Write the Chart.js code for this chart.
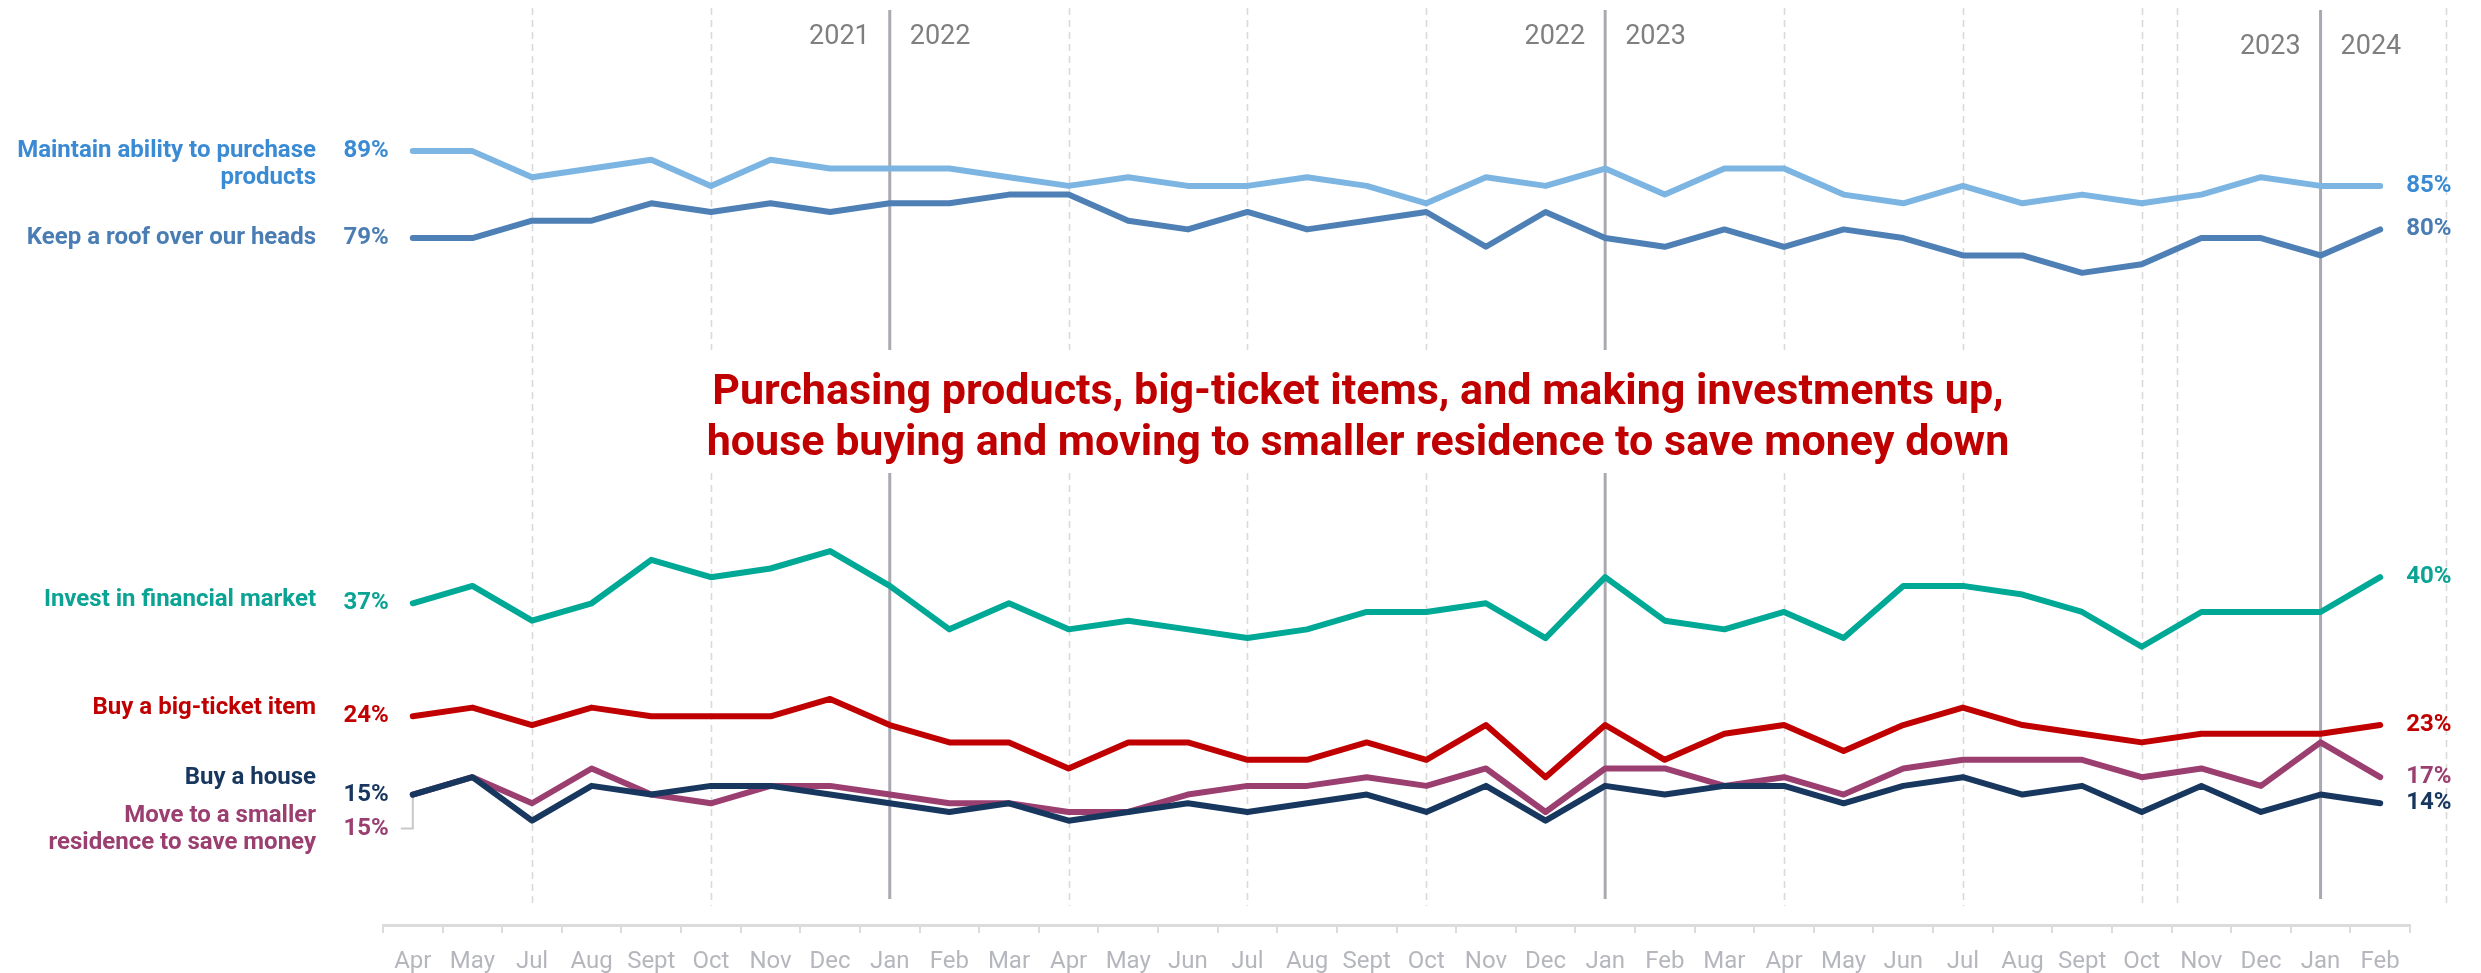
<!DOCTYPE html>
<html>
<head>
<meta charset="utf-8">
<script src="https://cdn.jsdelivr.net/npm/chart.js@4.4.1/dist/chart.umd.min.js"></script>
<style>
  html, body { margin: 0; padding: 0; background: #fff; }
  #wrap { width: 2481px; height: 973px; }
</style>
</head>
<body>
<div id="wrap"><canvas id="trendChart" width="2481" height="973"></canvas></div>
<script>
// months of each survey wave, Apr 2021 to Feb 2024
const categories = ['Apr', 'May', 'Jul', 'Aug', 'Sept', 'Oct', 'Nov', 'Dec',
    'Jan', 'Feb', 'Mar', 'Apr', 'May', 'Jun', 'Jul', 'Aug', 'Sept', 'Oct', 'Nov', 'Dec',
    'Jan', 'Feb', 'Mar', 'Apr', 'May', 'Jun', 'Jul', 'Aug', 'Sept', 'Oct', 'Nov', 'Dec',
    'Jan', 'Feb'];

const maintainPurchase = [89, 89, 86, 87, 88, 85, 88, 87,
    87, 87, 86, 85, 86, 85, 85, 86, 85, 83, 86, 85,
    87, 84, 87, 87, 84, 83, 85, 83, 84, 83, 84, 86,
    85, 85];
const keepRoof = [79, 79, 81, 81, 83, 82, 83, 82,
    83, 83, 84, 84, 81, 80, 82, 80, 81, 82, 78, 82,
    79, 78, 80, 78, 80, 79, 77, 77, 75, 76, 79, 79,
    77, 80];
const investMarket = [37, 39, 35, 37, 42, 40, 41, 43,
    39, 34, 37, 34, 35, 34, 33, 34, 36, 36, 37, 33,
    40, 35, 34, 36, 33, 39, 39, 38, 36, 32, 36, 36,
    36, 40];
const bigTicket = [24, 25, 23, 25, 24, 24, 24, 26,
    23, 21, 21, 18, 21, 21, 19, 19, 21, 19, 23, 17,
    23, 19, 22, 23, 20, 23, 25, 23, 22, 21, 22, 22,
    22, 23];
const buyHouse = [15, 17, 12, 16, 15, 16, 16, 15,
    14, 13, 14, 12, 13, 14, 13, 14, 15, 13, 16, 12,
    16, 15, 16, 16, 14, 16, 17, 15, 16, 13, 16, 13,
    15, 14];
const moveSmaller = [15, 17, 14, 18, 15, 14, 16, 16,
    15, 14, 14, 13, 13, 15, 16, 16, 17, 16, 18, 13,
    18, 18, 16, 17, 15, 18, 19, 19, 19, 17, 18, 16,
    21, 17];

const seriesNames = [
    ['Maintain ability to purchase', 'products'],
    ['Keep a roof over our heads'],
    ['Invest in financial market'],
    ['Buy a big-ticket item'],
    ['Buy a house'],
    ['Move to a smaller', 'residence to save money']
];

// year boundaries (index of the January wave) and the years either side
const yearBreaks = [
    { index: 8, before: '2021', after: '2022' },
    { index: 20, before: '2022', after: '2023' },
    { index: 32, before: '2023', after: '2024' }
];

const titleLines = [
    'Purchasing products, big-ticket items, and making investments up,',
    'house buying and moving to smaller residence to save money down'
];

// styling
const lineColors = ['#7db5e2', '#4e80b5', '#00a896', '#c00000', '#17375e', '#9b3e70'];
const textColors = ['#3a8bd4', '#4a7db4', '#0aa394', '#c00000', '#17375e', '#9b3e70'];
const labelFont = 'bold 24px Roboto, "Open Sans", sans-serif';
// vertical tweaks for the left-hand labels (px)
const leftLabelLayout = [
    { textDy: 0, valueDy: 0 },
    { textDy: 0, valueDy: 0 },
    { textDy: -3, valueDy: 0 },
    { textDy: -8, valueDy: 0 },
    { textDy: -17, valueDy: 0 },
    { textDy: 21, valueDy: 34 }
];

const allSeries = [maintainPurchase, keepRoof, investMarket, bigTicket, buyHouse, moveSmaller];

function drawVLine(ctx, px, top, bottom, gap) {
    ctx.beginPath();
    if (gap && px > gap.left && px < gap.right) {
        ctx.moveTo(px, top); ctx.lineTo(px, gap.top);
        ctx.moveTo(px, gap.bottom); ctx.lineTo(px, bottom);
    } else {
        ctx.moveTo(px, top); ctx.lineTo(px, bottom);
    }
    ctx.stroke();
}

const titleX = 1358, titleY = [393, 444];
const titleFont = 'bold 43px Roboto, "Open Sans", sans-serif';

const annotations = {
    id: 'annotations',
    beforeDatasetsDraw(chart) {
        const ctx = chart.ctx;
        const x = chart.scales.x;
        const y = chart.scales.y;

        ctx.save();
        ctx.font = titleFont;
        const tw = Math.max(...titleLines.map(t => ctx.measureText(t).width));
        const gap = { left: titleX - tw / 2 - 12, right: titleX + tw / 2 + 12, top: 350, bottom: 473 };

        // quarter lines (dashed), plus two stray guides near the right edge
        const breakIdx = yearBreaks.map(b => b.index);
        const quarters = [];
        categories.forEach((c, i) => { if (i % 3 === 2 && !breakIdx.includes(i)) quarters.push(i); });
        quarters.push(29.6, 34.1);
        ctx.strokeStyle = '#d9d9d9';
        ctx.lineWidth = 1.6;
        ctx.setLineDash([7, 5]);
        quarters.forEach(v => drawVLine(ctx, Math.round(x.getPixelForValue(v)) + 0.5, 8, 906, gap));

        // year lines (solid)
        ctx.setLineDash([]);
        ctx.strokeStyle = '#a9a9b1';
        ctx.lineWidth = 3;
        yearBreaks.forEach(b => drawVLine(ctx, x.getPixelForValue(b.index), 10, 899, gap));

        // year labels
        ctx.fillStyle = '#7f7f7f';
        ctx.font = '27px Roboto, "Open Sans", sans-serif';
        ctx.textBaseline = 'middle';
        yearBreaks.forEach((b, k) => {
            const px = x.getPixelForValue(b.index);
            const ly = k === 2 ? 47 : 37;
            ctx.textAlign = 'right';
            ctx.fillText(b.before, px - 20, ly);
            ctx.textAlign = 'left';
            ctx.fillText(b.after, px + 20, ly);
        });

        // title
        ctx.fillStyle = '#c00000';
        ctx.font = titleFont;
        ctx.textAlign = 'center';
        titleLines.forEach((t, i) => ctx.fillText(t, titleX, titleY[i]));

        // bracket tying the second 15% label to its line
        const x0 = x.getPixelForValue(0);
        const yp = y.getPixelForValue(moveSmaller[0]);
        ctx.strokeStyle = '#c8c8c8';
        ctx.lineWidth = 2;
        ctx.beginPath();
        ctx.moveTo(x0, yp);
        ctx.lineTo(x0, yp + leftLabelLayout[5].valueDy);
        ctx.lineTo(x0 - 12, yp + leftLabelLayout[5].valueDy);
        ctx.stroke();
        ctx.restore();
    },
    afterDatasetsDraw(chart) {
        const ctx = chart.ctx;
        const x = chart.scales.x;
        const y = chart.scales.y;
        const last = categories.length - 1;
        const xFirst = x.getPixelForValue(0);
        const xLast = x.getPixelForValue(last);

        ctx.save();
        ctx.font = labelFont;
        ctx.textBaseline = 'middle';
        allSeries.forEach((data, i) => {
            const lay = leftLabelLayout[i];
            const y0 = y.getPixelForValue(data[0]);
            ctx.fillStyle = textColors[i];
            ctx.textAlign = 'right';
            seriesNames[i].forEach((line, j) => ctx.fillText(line, 316, y0 + lay.textDy + j * 27));
            ctx.fillText(data[0] + '%', xFirst - 24, y0 + lay.valueDy);
            ctx.textAlign = 'left';
            ctx.fillText(data[last] + '%', xLast + 26, y.getPixelForValue(data[last]));
        });
        ctx.restore();
    }
};

Chart.defaults.font.family = 'Roboto, "Open Sans", sans-serif';

const ctx = document.getElementById('trendChart').getContext('2d');
new Chart(ctx, {
    type: 'line',
    data: {
        labels: categories,
        datasets: allSeries.map((data, i) => ({
            label: seriesNames[i].join(' '),
            data: data,
            borderColor: lineColors[i],
            borderWidth: 6,
            borderCapStyle: 'round',
            borderJoinStyle: 'round',
            pointRadius: 0,
            tension: 0,
            fill: false
        }))
    },
    options: {
        responsive: false,
        devicePixelRatio: 1,
        animation: false,
        layout: {
            padding: { left: 383, right: 71, top: 12, bottom: 0 }
        },
        plugins: {
            legend: { display: false },
            tooltip: { enabled: false }
        },
        scales: {
            x: {
                offset: true,
                afterFit(scale) { scale.height = 48; },
                grid: {
                    offset: true,
                    drawOnChartArea: false,
                    drawTicks: true,
                    tickLength: 8,
                    color: '#dcdcdc',
                    lineWidth: 2
                },
                border: { display: true, color: '#dcdcdc', width: 3 },
                ticks: {
                    autoSkip: false,
                    maxRotation: 0,
                    padding: 15,
                    color: '#b5b7bd',
                    font: { size: 24 }
                }
            },
            y: {
                display: false,
                min: 0,
                max: 105
            }
        }
    },
    plugins: [annotations]
});
</script>
</body>
</html>
